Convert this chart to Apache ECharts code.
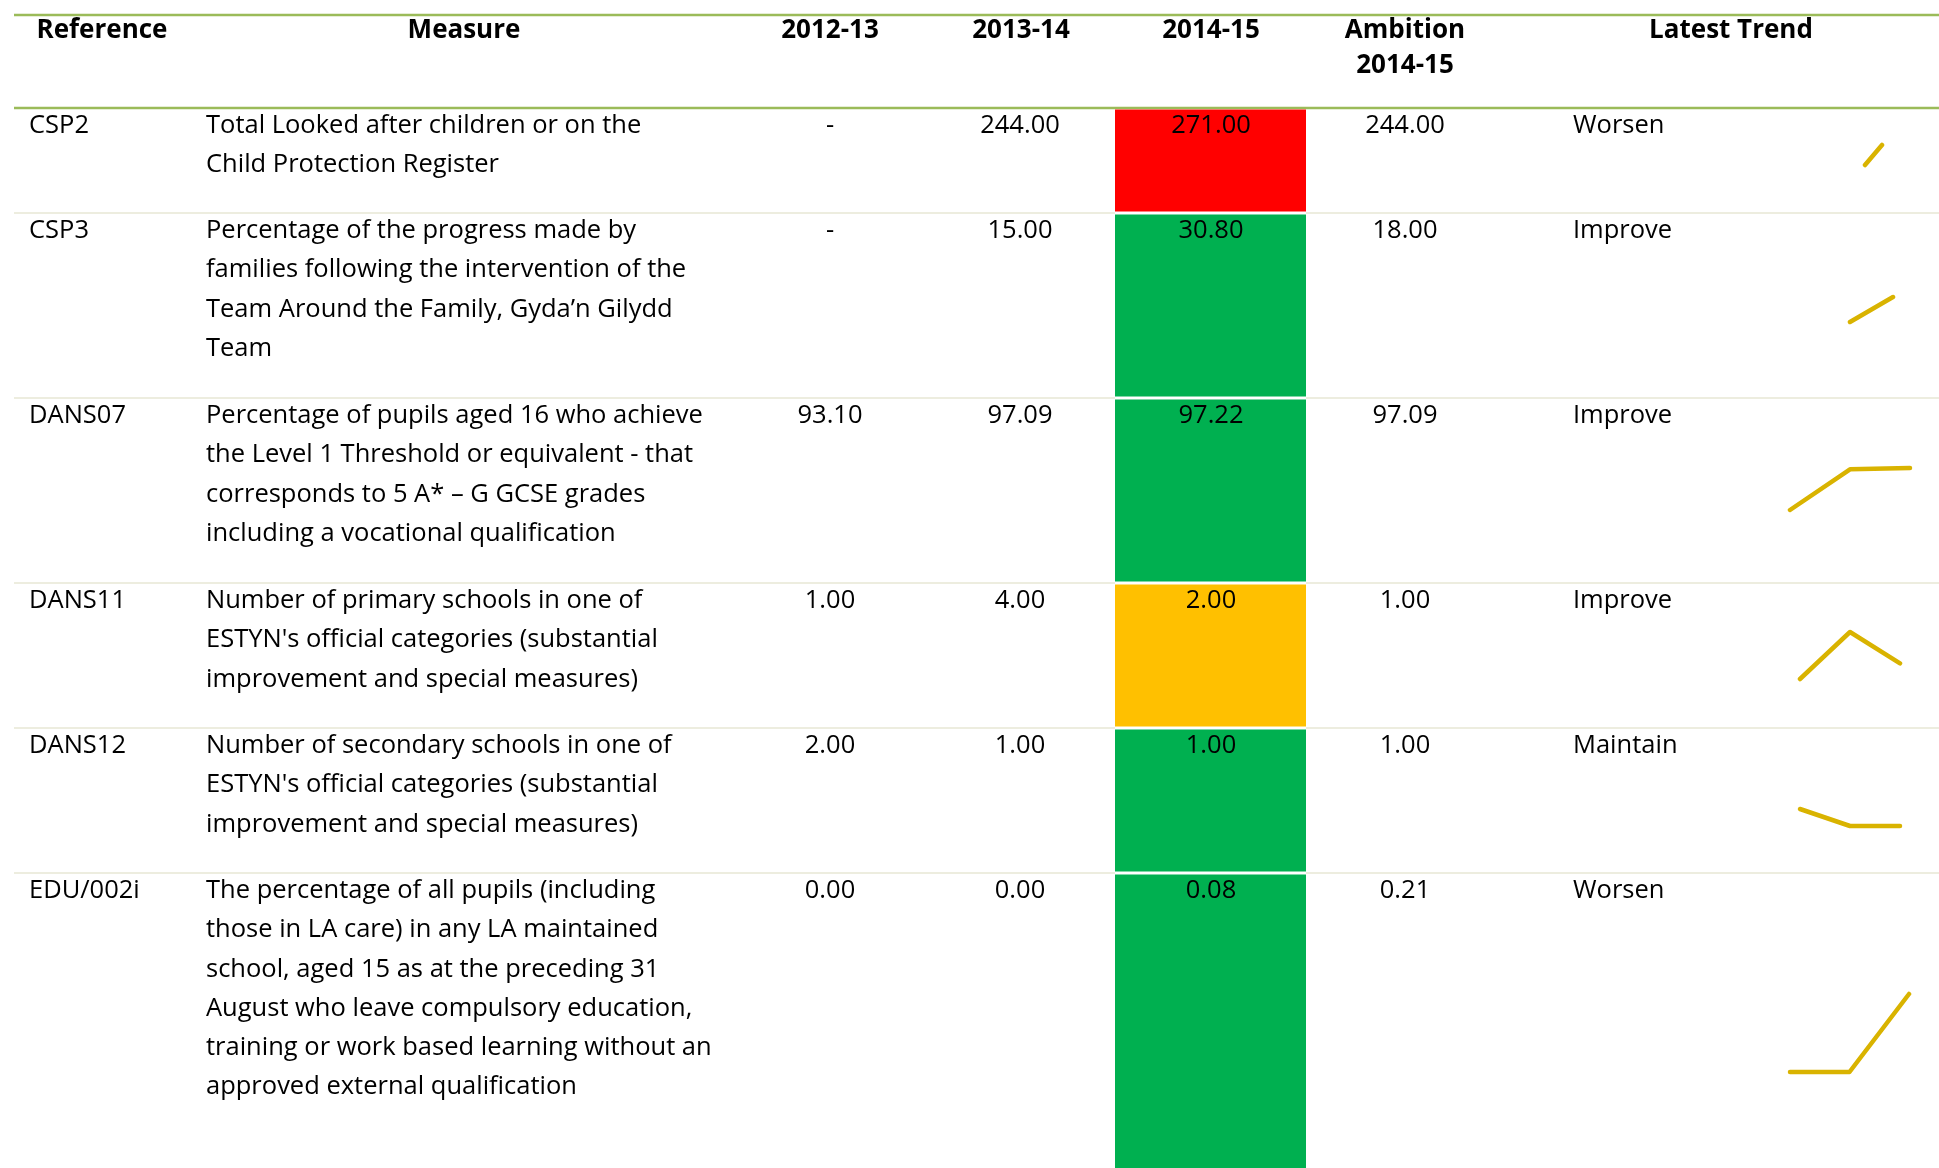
<!DOCTYPE html>
<html><head><meta charset="utf-8">
<script src="https://cdn.jsdelivr.net/npm/echarts@6/dist/echarts.min.js"></script>
<style>html,body{margin:0;padding:0;background:#fff}#c{width:1939px;height:1168px}</style>
</head><body><div id="c"></div>
<script>
// ---------------- data ----------------
const headers = ['Reference', 'Measure', '2012-13', '2013-14', '2014-15', 'Ambition\n2014-15', 'Latest Trend'];
const years = ['2012-13', '2013-14', '2014-15'];
const references = ['CSP2', 'CSP3', 'DANS07', 'DANS11', 'DANS12', 'EDU/002i'];
const measures = [
  ['Total Looked after children or on the', 'Child Protection Register'],
  ['Percentage of the progress made by', 'families following the intervention of the', 'Team Around the Family, Gyda\u2019n Gilydd', 'Team'],
  ['Percentage of pupils aged 16 who achieve', 'the Level 1 Threshold or equivalent - that', 'corresponds to 5 A* \u2013 G GCSE grades', 'including a vocational qualification'],
  ['Number of primary schools in one of', 'ESTYN\'s official categories (substantial', 'improvement and special measures)'],
  ['Number of secondary schools in one of', 'ESTYN\'s official categories (substantial', 'improvement and special measures)'],
  ['The percentage of all pupils (including', 'those in LA care) in any LA maintained', 'school, aged 15 as at the preceding 31', 'August who leave compulsory education,', 'training or work based learning without an', 'approved external qualification']
];
const values1213 = [null, null, 93.10, 1.00, 2.00, 0.00];
const values1314 = [244.00, 15.00, 97.09, 4.00, 1.00, 0.00];
const values1415 = [271.00, 30.80, 97.22, 2.00, 1.00, 0.08];
const ambition1415 = [244.00, 18.00, 97.09, 1.00, 1.00, 0.21];
const trends = ['Worsen', 'Improve', 'Improve', 'Improve', 'Maintain', 'Worsen'];
const ragStatus = ['red', 'green', 'green', 'amber', 'green', 'green'];

// ---------------- layout & style ----------------
const W = 1939, H = 1168;
const FONT_FAMILY = '"Open Sans", Lato, sans-serif';
const FS = 25.5;
const HFS = 26;
const RAG_COLORS = { red: '#FF0000', green: '#00B050', amber: '#FFC000' };
const SPARK_COLOR = '#D9B300';
const HEAD_LINE = '#9BBB59';
const ROW_LINE = '#EDEDDF';
const tableX0 = 14;
const headTopY = 15, headBottomY = 108;
const LINE_H = 39.2;
const colRefX = 29, colMeasX = 206, colTrendX = 1573;
const colCenters = [830, 1020, 1211, 1405];
const headCenters = [102, 464, 830, 1021, 1211, 1405, 1731];
const cellX0 = 1115, cellX1 = 1306;
const textDy = 16; // from row top to middle of first text line

// row boundaries from line counts
const rowTops = [];
{
  let y = headBottomY;
  measures.forEach((m, i) => {
    rowTops.push(y);
    y += (i === measures.length - 1) ? 400 : 40 * m.length + 25;
  });
  rowTops.push(y);
}

// sparkline boxes (pixel layout): left, right, top, bottom
const sparkBoxes = [
  [1848, 1882, 145, 165],
  [1807, 1893, 297, 322],
  [1790, 1910, 468, 510],
  [1800, 1900, 632, 679],
  [1800, 1900, 809, 826],
  [1790, 1909, 994, 1072]
];

function fmt(v) { return v == null ? '-' : v.toFixed(2); }

function txt(api, x, y, s, align, bold) {
  const p = api.coord([x, y]);
  return {
    type: 'text',
    style: {
      text: s, x: p[0], y: p[1], fill: '#000',
      font: (bold ? 'bold ' + HFS : FS) + 'px ' + FONT_FAMILY,
      align: align, verticalAlign: 'middle'
    }
  };
}
function hline(api, x0, x1, y, color, w) {
  const a = api.coord([x0, y]), b = api.coord([x1, y]);
  return { type: 'line', shape: { x1: a[0], y1: a[1], x2: b[0], y2: b[1] }, style: { stroke: color, lineWidth: w } };
}

const grids = [{ left: 0, top: 0, width: W, height: H }];
const xAxes = [{ type: 'value', min: 0, max: W, show: false, gridIndex: 0 }];
const yAxes = [{ type: 'value', min: 0, max: H, inverse: true, show: false, gridIndex: 0 }];

const series = [];

// header
series.push({
  type: 'custom', xAxisIndex: 0, yAxisIndex: 0, silent: true, clip: false,
  data: [0],
  renderItem: function (params, api) {
    const ch = [];
    ch.push(hline(api, tableX0, W, headTopY, HEAD_LINE, 2.5));
    ch.push(hline(api, tableX0, W, headBottomY, HEAD_LINE, 2.5));
    headers.forEach((h, i) => {
      h.split('\n').forEach((line, k) => {
        ch.push(txt(api, headCenters[i], 31 + k * 34.5, line, 'center', true));
      });
    });
    return { type: 'group', children: ch };
  }
});

// rows
series.push({
  type: 'custom', xAxisIndex: 0, yAxisIndex: 0, silent: true, clip: false,
  data: references.map((r, i) => [i]),
  renderItem: function (params, api) {
    const i = api.value(0);
    const top = rowTops[i], bottom = rowTops[i + 1];
    const ch = [];
    const a = api.coord([cellX0, top + 1.5]);
    const b = api.coord([cellX1, bottom - 1.5]);
    ch.push({ type: 'rect', shape: { x: a[0], y: a[1], width: b[0] - a[0], height: b[1] - a[1] }, style: { fill: RAG_COLORS[ragStatus[i]] } });
    if (i < references.length - 1) {
      ch.push(hline(api, tableX0, cellX0, bottom, ROW_LINE, 2));
      ch.push(hline(api, cellX1, W, bottom, ROW_LINE, 2));
    }
    const ty = top + textDy + 2;
    ch.push(txt(api, colRefX, ty, references[i], 'left', false));
    measures[i].forEach((line, k) => ch.push(txt(api, colMeasX, ty + k * LINE_H, line, 'left', false)));
    [values1213[i], values1314[i], values1415[i], ambition1415[i]].forEach((v, k) => {
      ch.push(txt(api, colCenters[k], ty, fmt(v), 'center', false));
    });
    ch.push(txt(api, colTrendX, ty, trends[i], 'left', false));
    return { type: 'group', children: ch };
  }
});

// sparklines
references.forEach((r, i) => {
  const box = sparkBoxes[i];
  const vals = [values1213[i], values1314[i], values1415[i]];
  const nums = vals.filter(v => v != null);
  const gi = grids.length;
  grids.push({ left: box[0], top: box[2], width: box[1] - box[0], height: box[3] - box[2] });
  xAxes.push({ type: 'category', data: years, boundaryGap: false, show: false, gridIndex: gi });
  yAxes.push({ type: 'value', min: Math.min(...nums), max: Math.max(...nums), show: false, gridIndex: gi, scale: true });
  series.push({
    type: 'line', xAxisIndex: gi, yAxisIndex: gi, data: vals, clip: false,
    symbol: 'none', silent: true, connectNulls: false,
    lineStyle: { color: SPARK_COLOR, width: 4.5, cap: 'round', join: 'round' }
  });
});

const chart = echarts.init(document.getElementById('c'), null, { renderer: 'canvas' });
chart.setOption({
  animation: false,
  backgroundColor: '#fff',
  grid: grids, xAxis: xAxes, yAxis: yAxes,
  series: series
});
</script></body></html>
